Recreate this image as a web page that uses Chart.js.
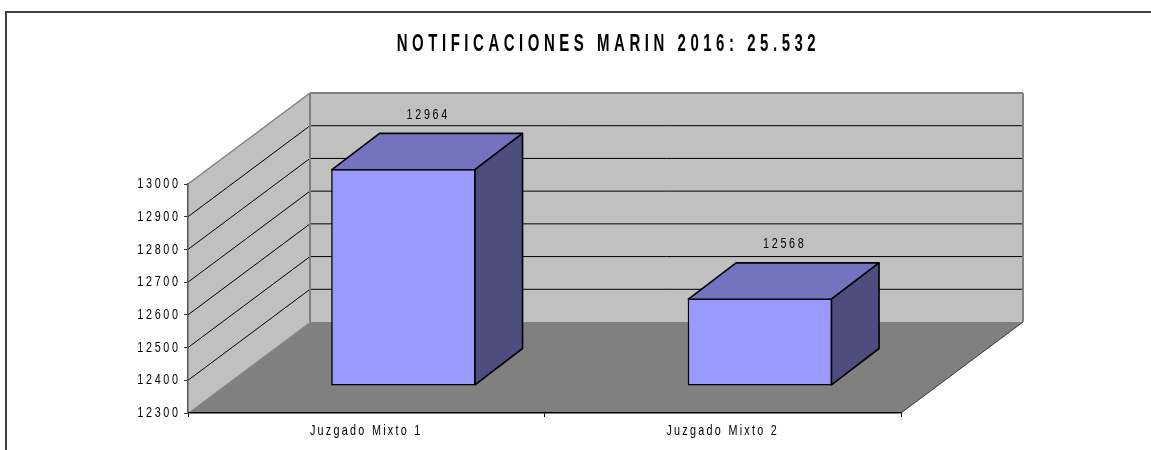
<!DOCTYPE html>
<html><head><meta charset="utf-8">
<style>html,body{margin:0;padding:0;background:#fff;overflow:hidden}#w{width:1151px;height:450px;position:relative}</style>
<script src="https://cdn.jsdelivr.net/npm/chart.js@4/dist/chart.umd.min.js"></script>
</head><body><div id="w"><canvas id="c" width="1151" height="450"></canvas></div>
<script>
const categories = ["Juzgado Mixto 1", "Juzgado Mixto 2"];
const notificaciones = [12964, 12568];
const titleText = "NOTIFICACIONES MARIN 2016: 25.532";
const yMin = 12300, yMax = 13000, yStep = 100;

const DEPTH_X = 122, DEPTH_Y = 91;      // full depth of the 3D box
const BAR_FRONT_X = 0.305, BAR_FRONT_Y = 0.2956; // bar placement within that depth
const BAR_DEPTH_X = 0.39, BAR_DEPTH_Y = 0.399;
const BORDER = 1.6;
const FAMILY = '"Liberation Sans",Arial,sans-serif';

function poly(ctx, pts, fill, stroke, lw) {
  ctx.beginPath();
  pts.forEach((p, i) => i ? ctx.lineTo(p[0], p[1]) : ctx.moveTo(p[0], p[1]));
  ctx.closePath();
  if (fill) { ctx.fillStyle = fill; ctx.fill(); }
  if (stroke) { ctx.strokeStyle = stroke; ctx.lineWidth = lw; ctx.lineJoin = 'round'; ctx.stroke(); }
}
function segment(ctx, x1, y1, x2, y2, color, lw) {
  ctx.beginPath(); ctx.moveTo(x1, y1); ctx.lineTo(x2, y2);
  ctx.strokeStyle = color; ctx.lineWidth = lw; ctx.stroke();
}

const box3d = {
  id: 'box3d',
  beforeDraw(chart) {
    const c = chart.ctx;
    if (!c._condensed) {
      const orig = c.fillText.bind(c);
      c.fillText = function (text, x, y, maxW) {
        const isTitle = text === titleText;
        c.save();
        c.letterSpacing = isTitle ? '7px' : categories.includes(text) ? '3.15px' : '3.7px';
        c.translate(x, y);
        c.scale(isTitle ? 0.65 : 0.72, 1);
        orig(text, 0, 0);
        c.restore();
      };
      c._condensed = true;
    }
    const a = chart.chartArea, y = chart.scales.y;
    const L = a.left, R = a.right, T = a.top, B = a.bottom, dx = DEPTH_X, dy = DEPTH_Y;
    c.save();
    c.strokeStyle = '#404040'; c.lineWidth = 2;
    c.beginPath(); c.moveTo(6, 451); c.lineTo(6, 12); c.lineTo(1152, 12); c.stroke();
    poly(c, [[L, T], [L + dx, T - dy], [L + dx, B - dy], [L, B]], '#C0C0C0');
    poly(c, [[L + dx, T - dy], [R + dx, T - dy], [R + dx, B - dy], [L + dx, B - dy]], '#C0C0C0');
    poly(c, [[L, B], [R, B], [R + dx, B - dy], [L + dx, B - dy]], '#808080');
    for (let v = yMin + yStep; v < yMax; v += yStep) {
      const p = y.getPixelForValue(v);
      segment(c, L, p, L + dx, p - dy, '#000', 1);
      segment(c, L + dx, p - dy, R + dx, p - dy, '#000', 1);
    }
    segment(c, L, T, L + dx, T - dy, '#808080', 1.5);
    segment(c, L + dx, T - dy, R + dx, T - dy, '#808080', 2);
    segment(c, R + dx, T - dy, R + dx, B - dy, '#808080', 2);
    segment(c, L + dx, T - dy, L + dx, B - dy, '#808080', 2);
    segment(c, L, B, L + dx, B - dy, '#999', 1);
    segment(c, R, B, R + dx, B - dy, '#333', 1);
    c.restore();
    const t = chart.titleBlock;
    if (!t._moved) { t.left += 158; t.right += 158; t._moved = true; }
  },
  beforeDatasetDraw(chart) {
    chart.ctx.save();
    chart.ctx.translate(DEPTH_X * BAR_FRONT_X, -DEPTH_Y * BAR_FRONT_Y);
  },
  afterDatasetDraw(chart, args) {
    const c = chart.ctx;
    c.restore();
    const ox = DEPTH_X * BAR_FRONT_X, oy = DEPTH_Y * BAR_FRONT_Y;
    const bx = DEPTH_X * BAR_DEPTH_X, by = DEPTH_Y * BAR_DEPTH_Y;
    const inset = BORDER / 2;
    args.meta.data.forEach((bar, i) => {
      const l = bar.x - bar.width / 2 + ox + inset, r = bar.x + bar.width / 2 + ox - inset;
      const t = bar.y - oy + inset, b = bar.base - oy - inset;
      c.save();
      poly(c, [[l, t], [r, t], [r + bx, t - by], [l + bx, t - by]], '#7373BF', '#000', BORDER);
      poly(c, [[r, t], [r + bx, t - by], [r + bx, b - by], [r, b]], '#4D4D80', '#000', BORDER);
      c.fillStyle = '#000';
      c.font = '15px ' + FAMILY;
      c.textAlign = 'center'; c.textBaseline = 'middle';
      c.fillText(String(notificaciones[i]), (l + r + bx) / 2 + 1, t - by - 19);
      c.restore();
    });
  }
};

new Chart(document.getElementById('c'), {
  type: 'bar',
  data: { labels: categories, datasets: [{
    data: notificaciones,
    base: yMin,
    backgroundColor: '#9999FF',
    borderColor: '#000',
    borderWidth: BORDER,
    borderSkipped: false,
    barPercentage: 0.4056,
    categoryPercentage: 1,
    clip: false
  }]},
  plugins: [box3d],
  options: {
    responsive: false,
    animation: false,
    layout: { padding: { left: 0, right: 250, top: 0, bottom: 0 } },
    plugins: {
      legend: { display: false },
      tooltip: { enabled: false },
      title: { display: true, text: titleText, color: '#000',
        font: { family: FAMILY, size: 23, weight: 'bold' },
        padding: { top: 31, bottom: 125.4 } }
    },
    scales: {
      x: {
        afterFit(s) { s.height = 37; },
        offset: true,
        grid: { display: true, offset: true, drawOnChartArea: false, drawTicks: true, tickLength: 4, color: '#000' },
        border: { display: true, color: '#000', width: 1.5 },
        ticks: { color: '#000', padding: 5, font: { family: FAMILY, size: 15 }, maxRotation: 0 }
      },
      y: {
        afterFit(s) { s.width = 188; },
        min: yMin, max: yMax, beginAtZero: false,
        grid: { display: true, drawOnChartArea: false, drawTicks: true, tickLength: 4, color: '#333' },
        border: { display: true, color: '#555', width: 1.5 },
        ticks: { stepSize: yStep, color: '#000', padding: 3.3, font: { family: FAMILY, size: 15 },
          callback: v => String(v) }
      }
    }
  }
});
</script></body></html>
